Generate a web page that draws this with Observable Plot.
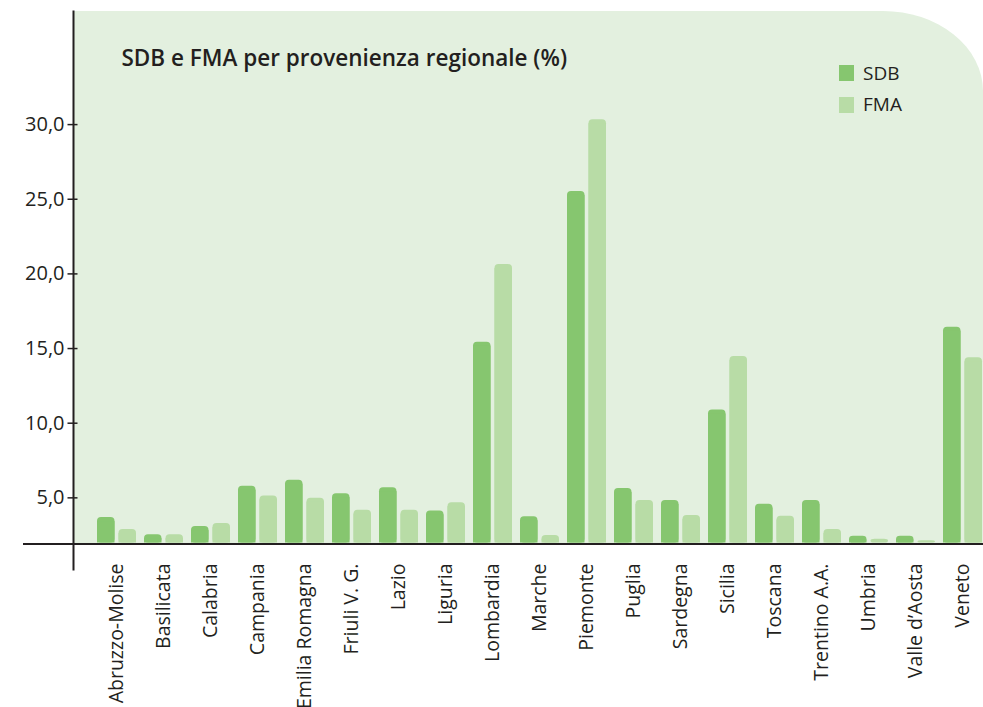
<!DOCTYPE html>
<html>
<head>
<meta charset="utf-8">
<script src="https://cdn.jsdelivr.net/npm/d3@7"></script>
<script src="https://cdn.jsdelivr.net/npm/@observablehq/plot@0.6"></script>
<style>
  html, body { margin: 0; padding: 0; background: #ffffff; }
  #wrap { position: relative; width: 983px; height: 707px; overflow: hidden; font-family: "Open Sans", sans-serif; color: #231f20; }
  #bg { position: absolute; left: 73px; top: 11px; width: 910px; height: 532px; background: #e3f0df; border-top-right-radius: 100px 80px; }
  #chart { position: absolute; left: 0; top: 0; }
  #title { position: absolute; left: 121.5px; top: 46.6px; font-size: 22.5px; line-height: 22.5px; font-weight: 600; white-space: nowrap; }
  .sw { position: absolute; width: 15px; height: 16px; left: 839px; }
  .lt { position: absolute; left: 863px; font-size: 19px; line-height: 19px; white-space: nowrap; }
</style>
</head>
<body>
<div id="wrap">
  <div id="bg"></div>
  <div id="chart"></div>
  <div id="title"></div>
  <div id="legend"></div>
</div>
<script>
const titleText = "SDB e FMA per provenienza regionale (%)";
const regions = ["Abruzzo-Molise","Basilicata","Calabria","Campania","Emilia Romagna","Friuli V. G.","Lazio","Liguria","Lombardia","Marche","Piemonte","Puglia","Sardegna","Sicilia","Toscana","Trentino A.A.","Umbria","Valle d’Aosta","Veneto"];
const sdb = [1.7, 0.55, 1.1, 3.8, 4.2, 3.3, 3.7, 2.15, 13.45, 1.75, 23.55, 3.65, 2.85, 8.9, 2.6, 2.85, 0.45, 0.45, 14.45];
const fma = [0.9, 0.55, 1.3, 3.15, 3.0, 2.2, 2.2, 2.7, 18.65, 0.5, 28.35, 2.85, 1.85, 12.5, 1.8, 0.9, 0.25, 0.15, 12.4];
const seriesNames = ["SDB", "FMA"];
const seriesColors = ["#86c66f", "#b8dca6"];
const yTicks = [5, 10, 15, 20, 25, 30];

const data = regions.map((r, i) => ({region: r, SDB: sdb[i], FMA: fma[i]}));
const ink = "#231f20";

// rounded-top bars: a rounded bar plus a square bar covering its lower part
function roundedTopBars(key, color, side) {
  const inset = side === "left" ? {insetRight: 21.5} : {insetLeft: 21.5};
  return [
    Plot.barY(data, {x: "region", y: key, fill: color, rx: 4, ...inset}),
    Plot.barY(data, {x: "region", y: key, fill: color, insetTop: 4, ...inset})
  ];
}

const chart = Plot.plot({
  width: 983,
  height: 707,
  marginLeft: 73,
  marginTop: 11,
  marginBottom: 138,
  marginRight: 0,
  style: {background: "transparent", fontFamily: "Open Sans", color: ink, overflow: "visible"},
  x: {domain: regions, range: [84, 996], padding: 0.16, axis: null},
  y: {domain: [0, 30], range: [542.5, 94.6], axis: null},
  marks: [
    ...roundedTopBars("SDB", seriesColors[0], "left"),
    ...roundedTopBars("FMA", seriesColors[1], "right"),
    Plot.ruleY([0], {stroke: ink, strokeWidth: 2.2, dy: 1, insetLeft: -50}),
    Plot.frame({anchor: "left", stroke: ink, strokeWidth: 2}),
    Plot.axisY(yTicks, {
      anchor: "left", tickSize: 10, tickPadding: 3.5, dx: 4.5, dy: 29.5,
      tickFormat: d => d.toFixed(1).replace(".", ","),
      fontSize: 20, color: ink, strokeWidth: 1.5, label: null
    }),
    Plot.axisX({
      anchor: "bottom", tickSize: 0, tickPadding: 0, tickRotate: -90, dy: -6,
      fontSize: 19.5, color: ink, label: null
    })
  ]
});
document.getElementById("chart").appendChild(chart);

document.getElementById("title").textContent = titleText;
const legend = document.getElementById("legend");
const swTops = [65, 96.7];
const txtTops = [64.2, 94.8];
seriesNames.forEach((s, i) => {
  const sw = document.createElement("div");
  sw.className = "sw";
  sw.style.top = swTops[i] + "px";
  sw.style.background = seriesColors[i];
  legend.appendChild(sw);
  const t = document.createElement("div");
  t.className = "lt";
  t.style.top = txtTops[i] + "px";
  t.textContent = s;
  legend.appendChild(t);
});
</script>
</body>
</html>
